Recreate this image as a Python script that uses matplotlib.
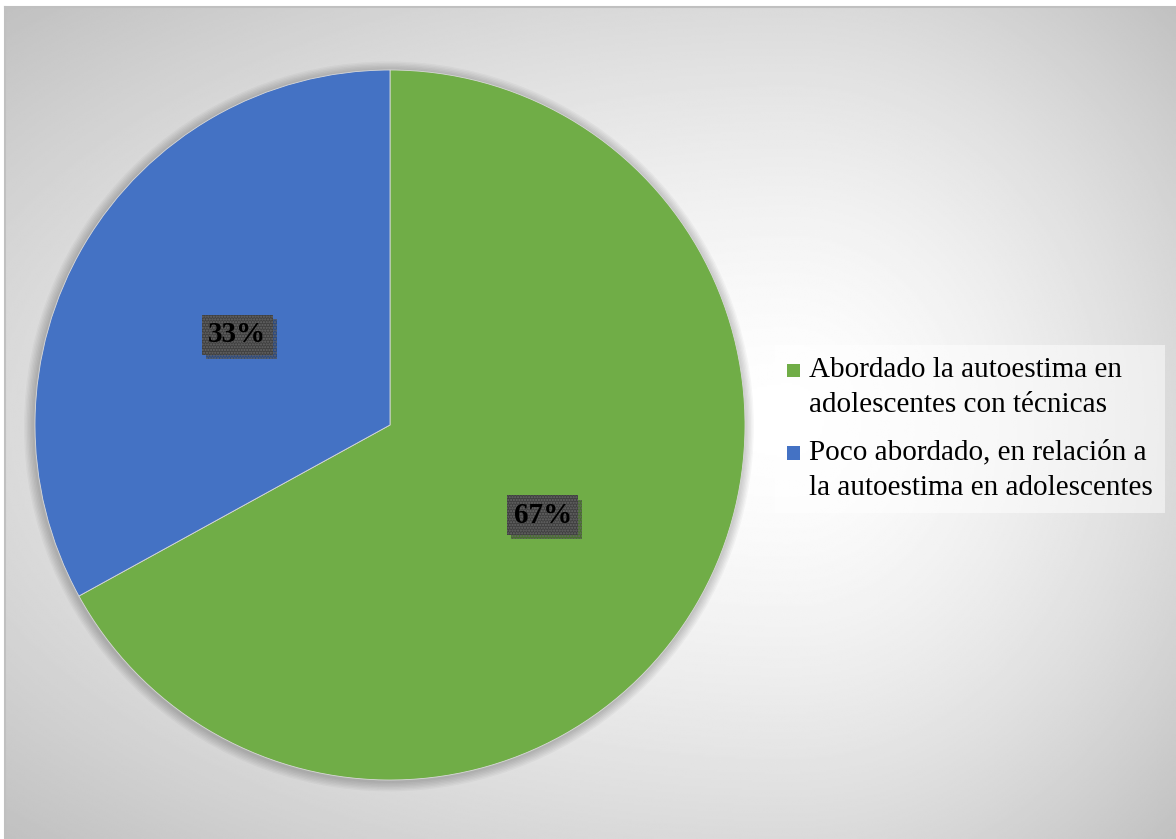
import matplotlib
matplotlib.use("Agg")
import matplotlib.pyplot as plt
import numpy as np
from matplotlib import patheffects as pe
from matplotlib.legend_handler import HandlerPatch
from matplotlib.patches import Circle, Patch, Rectangle

SERIF = ["Liberation Serif", "DejaVu Serif"]

categories = [
    "Abordado la autoestima en\nadolescentes con técnicas",
    "Poco abordado, en relación a\nla autoestima en adolescentes",
]
shares = [67, 33]
colors = ["#70AD47", "#4472C4"]

W, H = 1176, 839
fig = plt.figure(figsize=(W / 100, H / 100), dpi=100)
fig.patch.set_facecolor("white")

# chart area: light radial gradient, white towards the right middle
bg = fig.add_axes([5 / W, 0, 1 - 5 / W, 1 - 7 / H])
xs = np.linspace(5, W, 600)
ys = np.linspace(7, H, 430)
X, Y = np.meshgrid(xs, ys)
cx, cy = 790, 420
dx = np.where(X < cx, (cx - X) / (cx - 5), (X - cx) / (W - cx))
dy = np.where(Y < cy, (cy - Y) / (cy - 7), (Y - cy) / (H - cy))
t = np.hypot(dx, dy)
shade = (255 - 37 * t ** 1.5) / 255
bg.imshow(shade, cmap="gray", vmin=0, vmax=1, extent=(0, 1, 0, 1),
          origin="upper", aspect="auto", interpolation="bilinear")
bg.set_xticks([])
bg.set_yticks([])
for side in ["right", "bottom"]:
    bg.spines[side].set_visible(False)
for side in ["left", "top"]:
    bg.spines[side].set_color("#c0c0c0")
    bg.spines[side].set_linewidth(1.5)

# pie with a soft halo underneath
ax = fig.add_axes([35 / W, 59 / H, 710 / W, 710 / H])
ax.set_aspect("equal")
for i in range(7):
    ax.add_patch(Circle((-0.003, -0.004), 1 + 0.004 * (i + 1), color="black",
                        alpha=0.03, lw=0, zorder=0, clip_on=False))

wedges, _, autotexts = ax.pie(
    shares, colors=colors, startangle=90, counterclock=False,
    autopct=lambda p: f"{p:.0f}%", pctdistance=0.5,
    wedgeprops=dict(linewidth=0.6, edgecolor="#d9d9d9"),
)
for w in wedges:
    w.set_zorder(2)
ax.set_xlim(-1, 1)
ax.set_ylim(-1, 1)
ax.axis("off")

for txt in autotexts:
    txt.set(fontsize=21, fontweight="bold", family=SERIF, color="black", zorder=5)
    txt.set_bbox(dict(boxstyle="square,pad=0.22", facecolor="#404040",
                      edgecolor="#676767", linewidth=0, hatch="......"))
    txt.get_bbox_patch().set_path_effects(
        [pe.SimplePatchShadow(offset=(3, -3), shadow_rgbFace="black", alpha=0.35),
         pe.Normal()])


class SquareOnFirstLine(HandlerPatch):
    def create_artists(self, legend, orig_handle, xdescent, ydescent,
                       width, height, fontsize, trans):
        side = 0.45 * fontsize
        lift = 0.7 * fontsize
        p = Rectangle((-xdescent, -ydescent + lift), side, side,
                      facecolor=orig_handle.get_facecolor(), lw=0,
                      transform=trans)
        return [p]


handles = [Patch(facecolor=c) for c in colors]
leg = fig.legend(
    handles, categories, loc="upper left",
    bbox_to_anchor=(775 / W, 1 - 345 / H), borderaxespad=0,
    prop=dict(family=SERIF, size=21), handlelength=0.45,
    handletextpad=0.3, labelspacing=0.73, borderpad=0.42,
    frameon=True, fancybox=False, edgecolor="none",
    handler_map={Patch: SquareOnFirstLine()},
)
leg.get_frame().set_facecolor("white")
leg.get_frame().set_alpha(0.5)
for txt in leg.get_texts():
    txt.set_linespacing(1.45)

fig.savefig("out.png", dpi=100, facecolor="white")
